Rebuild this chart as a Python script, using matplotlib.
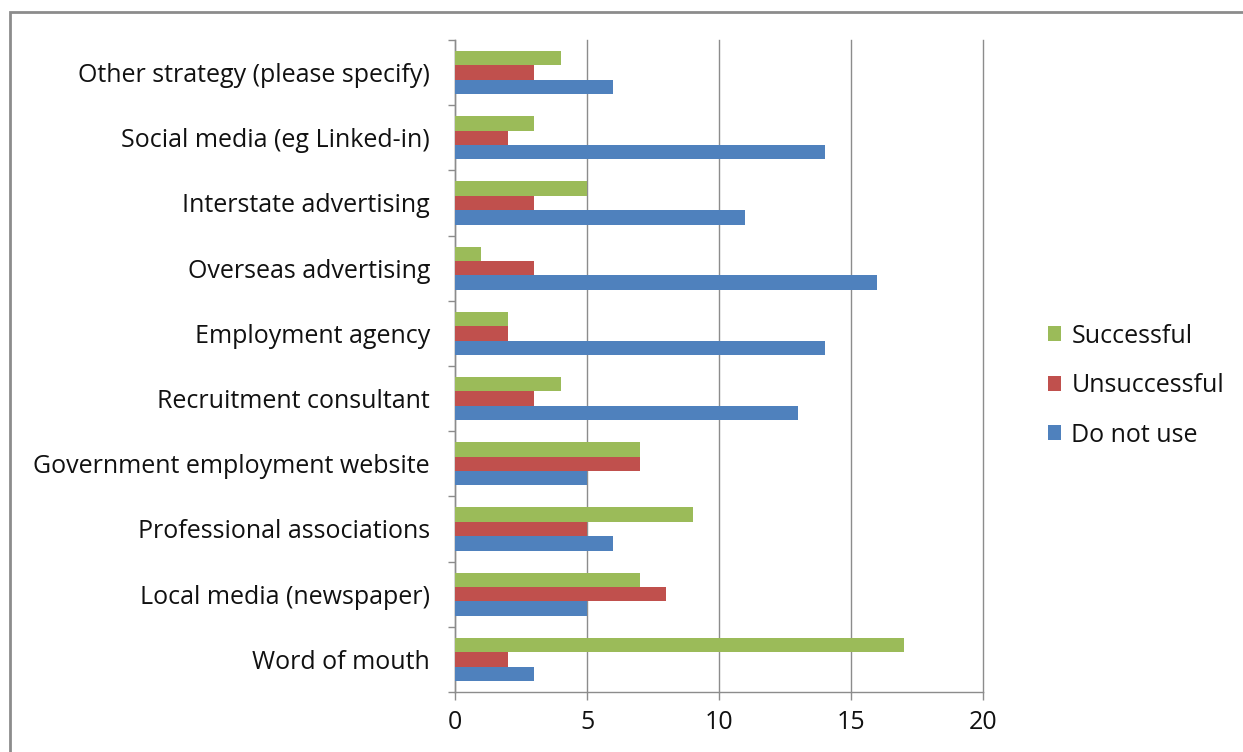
import numpy as np
import matplotlib
matplotlib.use("Agg")
import matplotlib.pyplot as plt
from matplotlib.patches import Rectangle

# categories from bottom to top
categories = ["Word of mouth", "Local media (newspaper)", "Professional associations",
              "Government employment website", "Recruitment consultant", "Employment agency",
              "Overseas advertising", "Interstate advertising", "Social media (eg Linked-in)",
              "Other strategy (please specify)"]
successful = [17, 7, 9, 7, 4, 2, 1, 5, 3, 4]
unsuccessful = [2, 8, 5, 7, 3, 2, 3, 3, 2, 3]
do_not_use = [3, 5, 6, 5, 13, 14, 16, 11, 14, 6]

plt.rcParams['font.family'] = ['Open Sans', 'DejaVu Sans']
txt = "#111111"
fs = 18

fig = plt.figure(figsize=(12.43, 7.52), dpi=100)
# outer chart border (cut at right / bottom like the reference)
fig.patches.append(Rectangle((10 / 1243, -0.1), 1.2, 1.1 - 12 / 752,
                             transform=fig.transFigure, fill=False,
                             edgecolor="#8c8c8c", lw=2))
ax = fig.add_axes([455 / 1243, 1 - 692 / 752, 528 / 1243, 652 / 752])

y = np.arange(len(categories))
h = 0.22
grey = "#8c8c8c"
ax.barh(y - h, do_not_use, height=h, color="#4f81bd", label="Do not use", zorder=3)
ax.barh(y, unsuccessful, height=h, color="#c0504d", label="Unsuccessful", zorder=3)
ax.barh(y + h, successful, height=h, color="#9bbb59", label="Successful", zorder=3)

ax.set_xlim(0, 20)
ax.set_ylim(-0.5, len(categories) - 0.5)
ax.set_xticks([0, 5, 10, 15, 20])
ax.xaxis.grid(True, color=grey, lw=1, zorder=0)
for gl in ax.get_xgridlines():
    gl.set_clip_on(False)

ax.set_yticks(y)
ax.set_yticklabels(categories, fontsize=fs, color=txt)
ax.set_yticks(np.arange(-0.5, len(categories)), minor=True)
ax.tick_params(axis="y", which="major", length=0, pad=18)
ax.tick_params(axis="y", which="minor", length=5, color=grey, width=1)
ax.tick_params(axis="x", length=6, color=grey, width=1, labelsize=fs,
               labelcolor=txt, pad=7)

for s in ["top", "right"]:
    ax.spines[s].set_visible(False)
for s in ["left", "bottom"]:
    ax.spines[s].set_color(grey)
    ax.spines[s].set_linewidth(1)

handles, labels = ax.get_legend_handles_labels()
ax.legend(handles[::-1], labels[::-1], loc="center left", bbox_to_anchor=(1.08, 0.47),
          frameon=False, fontsize=fs, handlelength=0.55, handleheight=0.55,
          handletextpad=0.4, labelspacing=0.98, labelcolor=txt)

fig.savefig("out.png", dpi=100)
